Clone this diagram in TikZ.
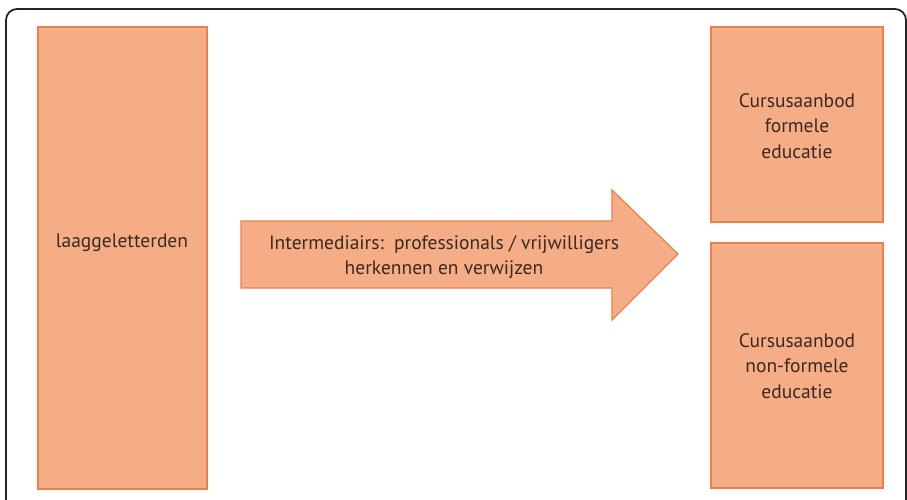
\documentclass[tikz,border=0pt]{standalone}
\usepackage{fontspec}
\setmainfont{PT Sans}
\definecolor{boxfill}{HTML}{F5AD85}
\definecolor{boxline}{HTML}{EE7F4A}
\definecolor{txt}{HTML}{3A2A22}
\begin{document}
\begin{tikzpicture}[x=1pt,y=-1pt,
  blk/.style={draw=boxline, fill=boxfill, line width=1.2pt, inner sep=0pt},
  lbl/.style={text=txt, font=\fontsize{19.5}{25.5}\selectfont, align=center}]
\useasboundingbox (0,0) rectangle (907,499);
\begin{scope}
\clip (0,0) rectangle (907,499);
\draw[line width=1.8pt, color=black!85, rounded corners=11pt] (6,9) rectangle (906,520);
\end{scope}
\draw[blk] (38,27) rectangle (207,489);
\node[lbl] (laag) at (122,243) {laaggeletterden};
\draw[blk] (711,27) rectangle (883,222);
\node[lbl] (form) at (797,126) {Cursusaanbod\\formele\\educatie};
\draw[blk] (711,243) rectangle (883,488);
\node[lbl] (nonform) at (797,366) {Cursusaanbod\\non-formele\\educatie};
\draw[blk, line join=miter] (241,221) -- (612,221) -- (612,190) -- (678,254) -- (612,320) -- (612,288) -- (241,288) -- cycle;
\node[lbl] (inter) at (444,257) {Intermediairs:\ \ professionals / vrijwilligers\\herkennen en verwijzen};
\end{tikzpicture}
\end{document}
